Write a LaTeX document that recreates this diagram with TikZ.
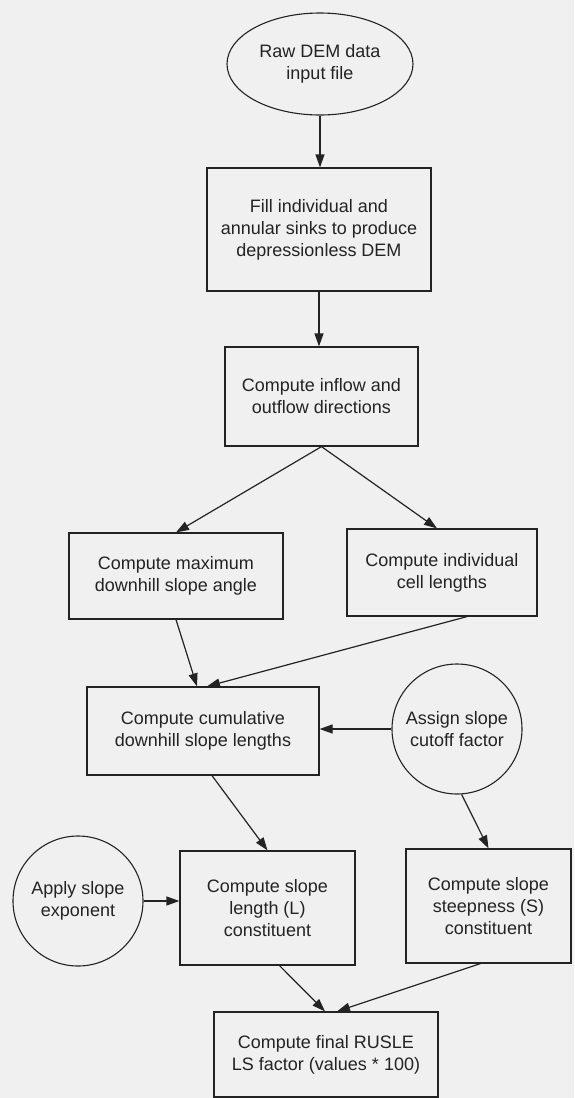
\documentclass[tikz,border=0pt]{standalone}
\usepackage{fontspec}
\setmainfont{Liberation Sans}
\usetikzlibrary{shapes.geometric,arrows.meta}
\definecolor{paper}{RGB}{240,240,240}
\definecolor{ink}{RGB}{35,35,35}
\tikzset{
  every node/.style={font=\fontsize{18}{22}\selectfont, text=ink, align=center, inner sep=0pt},
  stepbox/.style={draw=ink, line width=1.2pt, rectangle, fill=paper},
  oval/.style={draw=ink, line width=1.1pt, ellipse, fill=paper},
  round/.style={draw=ink, line width=1.1pt, circle, fill=paper, minimum size=130pt},
  arr/.style={draw=ink, line width=1.2pt, -{Triangle[length=13pt,width=9pt]}}
}
\begin{document}
\begin{tikzpicture}[x=1pt,y=-1pt]
\fill[paper] (0,0) rectangle (574,1098);
\useasboundingbox (0,0) rectangle (574,1098);

\node[oval, minimum width=186pt, minimum height=102pt] (e) at (320,64) {Raw DEM data\\input file};
\node[stepbox, minimum width=224pt, minimum height=123pt] (b1) at (319,229.5) {Fill individual and\\annular sinks to produce\\depressionless DEM};
\node[stepbox, minimum width=193pt, minimum height=99pt] (b2) at (321.5,396.5) {Compute inflow and\\outflow directions};
\node[stepbox, minimum width=214pt, minimum height=86pt] (b3) at (176,576) {Compute maximum\\downhill slope angle};
\node[stepbox, minimum width=190pt, minimum height=87pt] (b4) at (442,572.5) {Compute individual\\cell lengths};
\node[stepbox, minimum width=232pt, minimum height=88pt] (b5) at (203,731) {Compute cumulative\\downhill slope lengths};
\node[round] (c1) at (457,729) {Assign slope\\cutoff factor};
\node[stepbox, minimum width=175pt, minimum height=114pt] (b6) at (267.5,908) {Compute slope\\length (L)\\constituent};
\node[stepbox, minimum width=165pt, minimum height=114pt] (b7) at (488.5,906) {Compute slope\\steepness (S)\\constituent};
\node[round] (c2) at (78,901) {Apply slope\\exponent};
\node[stepbox, minimum width=224pt, minimum height=85pt] (b8) at (326,1054.5) {Compute final RUSLE\\LS factor (values * 100)};

\draw[arr] (e.south) -- (e.south |- b1.north);
\draw[arr] (b1.south) -- (b1.south |- b2.north);
\draw[arr] (b2.south) -- (b3.north);
\draw[arr] (b2.south) -- ([xshift=-5pt]b4.north);
\draw[arr] (b3.south) -- ([xshift=-6pt]b5.north);
\draw[arr] ([xshift=25pt]b4.south) -- ([xshift=4pt]b5.north);
\draw[arr] (c1.west) -- (c1.west -| b5.east);
\draw[arr] ([xshift=9pt]b5.south) -- (b6.north);
\draw[arr] (c1.-86) -- (b7.north);
\draw[arr] (c2.east) -- (c2.east -| b6.west);
\draw[arr] ([xshift=12pt]b6.south) -- ([xshift=-1pt]b8.north);
\draw[arr] ([xshift=-8pt]b7.south) -- ([xshift=11pt]b8.north);
\end{tikzpicture}
\end{document}
